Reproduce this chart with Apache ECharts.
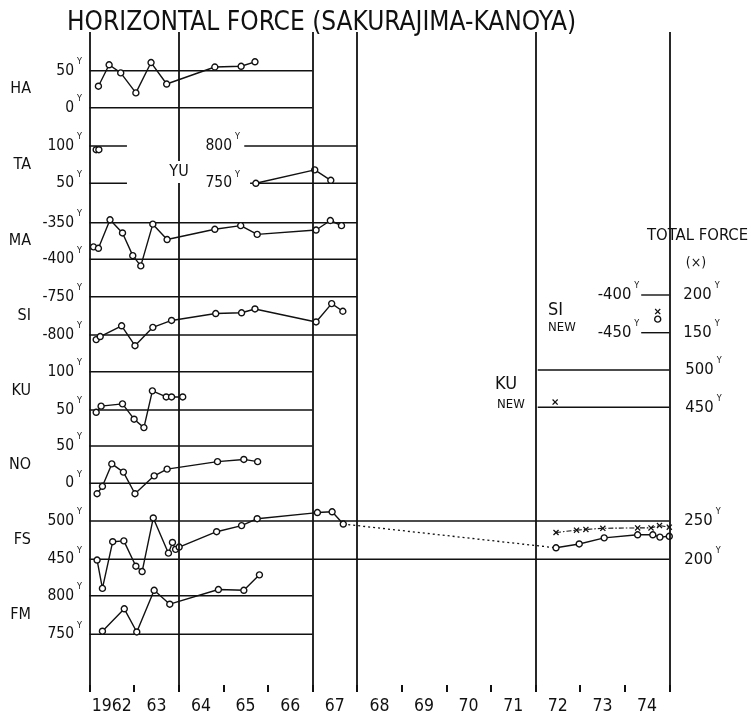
<!DOCTYPE html>
<html><head><meta charset="utf-8">
<script src="https://cdn.jsdelivr.net/npm/echarts@6/dist/echarts.min.js"></script>
<style>html,body{margin:0;padding:0;background:#fff}#c{width:751px;height:717px}</style>
</head><body><div id="c"></div>
<script>
// ---------------- DATA ----------------
const yearLabels = ['1962','63','64','65','66','67','68','69','70','71','72','73','74'];
const dividerYears = [1962, 1964, 1967, 1968, 1972, 1975];

// level (tick) values of each panel [lower, upper]
const haLevels = [0, 50];
const taLevels = [50, 100];
const yuLevels = [750, 800];
const maLevels = [-400, -350];
const siLevels = [-800, -750];
const siNewLevels = [-450, -400];
const siNewTotalLevels = [150, 200];
const kuLevels = [50, 100];
const kuNewLevels = [450, 500];
const noLevels = [0, 50];
const fsLevels = [450, 500];
const fsTotalLevels = [200, 250];
const fmLevels = [750, 800];

// [year, gamma]
const haData = [[1962.20,29],[1962.44,58],[1962.70,47],[1963.04,20],[1963.38,61],[1963.73,32],[1964.81,55],[1965.40,56],[1965.71,62]];
const taData = [[1962.15,95],[1962.21,95]];
const yuData = [[1965.73,750],[1967.05,768],[1967.41,754]];
const maData = [[1962.09,-383],[1962.20,-385],[1962.46,-346],[1962.74,-364],[1962.97,-395],[1963.15,-409],[1963.42,-352],[1963.74,-373],[1964.81,-359],[1965.39,-354],[1965.76,-366],[1967.08,-360],[1967.40,-347],[1967.65,-354]];
const siData = [[1962.15,-806],[1962.24,-802],[1962.72,-788],[1963.02,-814],[1963.42,-790],[1963.84,-781],[1964.83,-772],[1965.41,-771],[1965.71,-766],[1967.08,-783],[1967.43,-759],[1967.68,-769]];
const siNewData = [[1974.74,-432]];
const siNewTotalData = [[1974.74,178]];
const kuData = [[1962.15,47],[1962.26,55],[1962.74,58],[1963.00,38],[1963.22,27],[1963.41,75],[1963.72,67],[1963.84,67],[1964.09,67]];
const kuNewTotalData = [[1972.44,457]];
const noData = [[1962.17,-14],[1962.29,-4],[1962.50,26],[1962.76,15],[1963.02,-14],[1963.45,10],[1963.74,19],[1964.87,29],[1965.46,32],[1965.77,29]];
const fsData = [[1962.17,449],[1962.29,412],[1962.52,473],[1962.77,474],[1963.04,441],[1963.18,434],[1963.43,504],[1963.77,458],[1963.86,472],[1963.93,463],[1964.01,466],[1964.85,486],[1965.41,494],[1965.76,503],[1967.11,511],[1967.44,512],[1967.69,496]];
const fsNewData = [[1972.46,465],[1972.98,470],[1973.54,478],[1974.29,482],[1974.63,482],[1974.79,479],[1975.00,480]];
const totalForceData = [[1972.46,235],[1972.92,238],[1973.13,239],[1973.51,240.5],[1974.29,241],[1974.59,241],[1974.78,244],[1975.00,242]];
const fmData = [[1962.29,754],[1962.78,783],[1963.06,753],[1963.45,807],[1963.80,789],[1964.89,808],[1965.46,807],[1965.81,827]];

// ---------------- LAYOUT ----------------
const FONT = '"DejaVu Sans Condensed","Liberation Sans Narrow","DejaVu Sans",sans-serif';
const INK = '#111';
const L = 89.5, RX = 669.3;
const gridDefs = [
  [32, 692],      // 0 frame
  [70.7, 107.7],  // 1 HA
  [146, 183.3],   // 2 TA / YU
  [222.7, 259.3], // 3 MA
  [296.7, 335],   // 4 SI
  [295, 332.7],   // 5 SI NEW
  [371.7, 410],   // 6 KU
  [370, 407.3],   // 7 KU NEW
  [446, 483.3],   // 8 NO
  [521, 559.3],   // 9 FS
  [595.7, 634.3]  // 10 FM
];
const grids = gridDefs.map(([t,b]) => ({left:L, width:RX-L, top:t, height:b-t, containLabel:false, outerBoundsMode:'none'}));
const xAxes = gridDefs.map((_,i) => ({type:'value', gridIndex:i, min:1962, max:1975, show:false}));
xAxes.push({type:'category', gridIndex:0, data:yearLabels, boundaryGap:true, position:'bottom',
  axisLine:{show:false}, splitLine:{show:false},
  axisTick:{show:true, inside:true, length:7, lineStyle:{color:INK, width:2}},
  axisLabel:{interval:0, margin:5, color:INK, fontSize:17.5, fontFamily:FONT}});

function levelAxis(gi, levels, o) {
  o = o || {};
  return {
    type:'value', gridIndex:gi, position:o.side || 'left', offset:o.offset || 0,
    min:levels[0], max:levels[1], interval:levels[1]-levels[0],
    name:o.name || '', nameLocation:'middle', nameRotate:0, nameGap:58.5,
    nameTextStyle:{fontSize:16, color:INK, fontFamily:FONT},
    axisLine:{show:false}, axisTick:{show:false}, splitLine:{show:false},
    axisLabel:{show:true, margin:(o.margin != null ? o.margin : 7.5),
      formatter:v => '{n|' + v + '}{s|Y}',
      rich:{n:{fontSize:o.fs || 15.5, color:INK, fontFamily:FONT},
            s:{fontSize:9, color:INK, fontFamily:FONT, padding:[0,0,18,3]}}}
  };
}
const yAxes = [
  {type:'value', gridIndex:0, min:0, max:1, show:false},             // 0
  levelAxis(1, haLevels, {name:'HA'}),                                  // 1
  levelAxis(2, taLevels, {name:'TA'}),                                  // 2
  levelAxis(2, yuLevels, {offset:-(244 - L), margin:4}),                // 3
  levelAxis(3, maLevels, {name:'MA'}),                                  // 4
  levelAxis(4, siLevels, {name:'SI'}),                                  // 5
  levelAxis(5, siNewLevels, {offset:-(643.3 - L), margin:4, fs:16.5}),  // 6
  levelAxis(5, siNewTotalLevels, {side:'right', margin:14, fs:16.5}),   // 7
  levelAxis(6, kuLevels, {name:'KU'}),                                  // 8
  levelAxis(7, kuNewLevels, {side:'right', margin:16, fs:16.5}),        // 9
  levelAxis(8, noLevels, {name:'NO'}),                                  // 10
  levelAxis(9, fsLevels, {name:'FS'}),                                  // 11
  levelAxis(9, fsTotalLevels, {side:'right', margin:15, fs:16.5}),      // 12
  levelAxis(10, fmLevels, {name:'FM'})                                  // 13
];

const series = [];
// vertical dividers
series.push({type:'line', xAxisIndex:0, yAxisIndex:0, data:[], silent:true, animation:false,
  markLine:{symbol:['none','none'], silent:true, label:{show:false}, animation:false,
    lineStyle:{color:INK, width:1.8, type:'solid'},
    data:dividerYears.map(x => ({xAxis:x}))}});

// horizontal level lines
function levelLines(gi, yi, levels, span) {
  levels.forEach(lv => series.push({type:'line', xAxisIndex:gi, yAxisIndex:yi, clip:false, silent:true, animation:false,
    symbol:'none', lineStyle:{color:INK, width:1.4}, z:1, data:[[span[0], lv],[span[1], lv]]}));
}
levelLines(1, 1, haLevels, [1962, 1967]);
levelLines(2, 2, taLevels, [1962, 1962.84]);
levelLines(2, 3, [yuLevels[1]], [1965.47, 1968]);
levelLines(2, 3, [yuLevels[0]], [1965.60, 1968]);
levelLines(3, 4, maLevels, [1962, 1968]);
levelLines(4, 5, siLevels, [1962, 1968]);
levelLines(5, 6, siNewLevels, [1974.37, 1975]);
levelLines(6, 8, kuLevels, [1962, 1967]);
levelLines(7, 9, kuNewLevels, [1972.05, 1975]);
levelLines(8, 10, noLevels, [1962, 1967]);
levelLines(9, 11, fsLevels, [1962, 1975]);
levelLines(10, 13, fmLevels, [1962, 1967]);

const CROSS = 'path://M0,1.5L1.5,0L5,3.5L8.5,0L10,1.5L6.5,5L10,8.5L8.5,10L5,6.5L1.5,10L0,8.5L3.5,5Z';
function circles(data, gi, yi) {
  series.push({type:'line', xAxisIndex:gi, yAxisIndex:yi, data:data, clip:false, silent:true, animation:false,
    symbol:'circle', symbolSize:6, showSymbol:true, z:3,
    lineStyle:{color:INK, width:1.4}, itemStyle:{color:'#fff', borderColor:INK, borderWidth:1.4}});
}
function crosses(data, gi, yi, lineType) {
  series.push({type:'line', xAxisIndex:gi, yAxisIndex:yi, data:data, clip:false, silent:true, animation:false,
    symbol:CROSS, symbolSize:6, showSymbol:true, z:3,
    lineStyle:{color:INK, width:1.1, type:lineType || 'solid'}, itemStyle:{color:INK, borderWidth:0}});
}
circles(haData, 1, 1);
circles(taData, 2, 2);
circles(yuData, 2, 3);
circles(maData, 3, 4);
circles(siData, 4, 5);
circles(siNewData, 5, 6);
crosses(siNewTotalData, 5, 7);
circles(kuData, 6, 8);
crosses(kuNewTotalData, 7, 9);
circles(noData, 8, 10);
circles(fsData, 9, 11);
// dotted link between the two FS records
series.push({type:'line', xAxisIndex:9, yAxisIndex:11, clip:false, silent:true, animation:false, symbol:'none', z:2,
  lineStyle:{color:INK, width:1.3, type:[2,3]}, data:[fsData[fsData.length-1], fsNewData[0]]});
circles(fsNewData, 9, 11);
crosses(totalForceData, 9, 12, [5,2,1.5,2]);
circles(fmData, 10, 13);

function txt(x, y, text, size, align, extra) {
  return Object.assign({type:'text', x:x, y:y, z:10, silent:true,
    style:Object.assign({text:text, fill:INK, font:size + 'px ' + FONT, align:align || 'left', verticalAlign:'middle'}, extra || {})});
}
const graphics = [
  txt(67, 23, 'HORIZONTAL FORCE (SAKURAJIMA-KANOYA)', 26, 'left'),
  txt(179, 172, 'YU', 16, 'center', {backgroundColor:'#fff', padding:[3,1]}),
  txt(548, 310, 'SI', 18, 'left'),
  txt(548, 328, 'NEW', 13, 'left'),
  txt(495, 384, 'KU', 18, 'left'),
  txt(497, 405, 'NEW', 13, 'left'),
  txt(647, 236, 'TOTAL FORCE', 16.5, 'left'),
  txt(696, 263, '(×)', 14, 'center')
];

const chart = echarts.init(document.getElementById('c'), null, {renderer:'canvas'});
chart.setOption({
  backgroundColor:'#fff',
  animation:false,
  grid:grids, xAxis:xAxes, yAxis:yAxes, series:series, graphic:graphics
});
</script></body></html>
